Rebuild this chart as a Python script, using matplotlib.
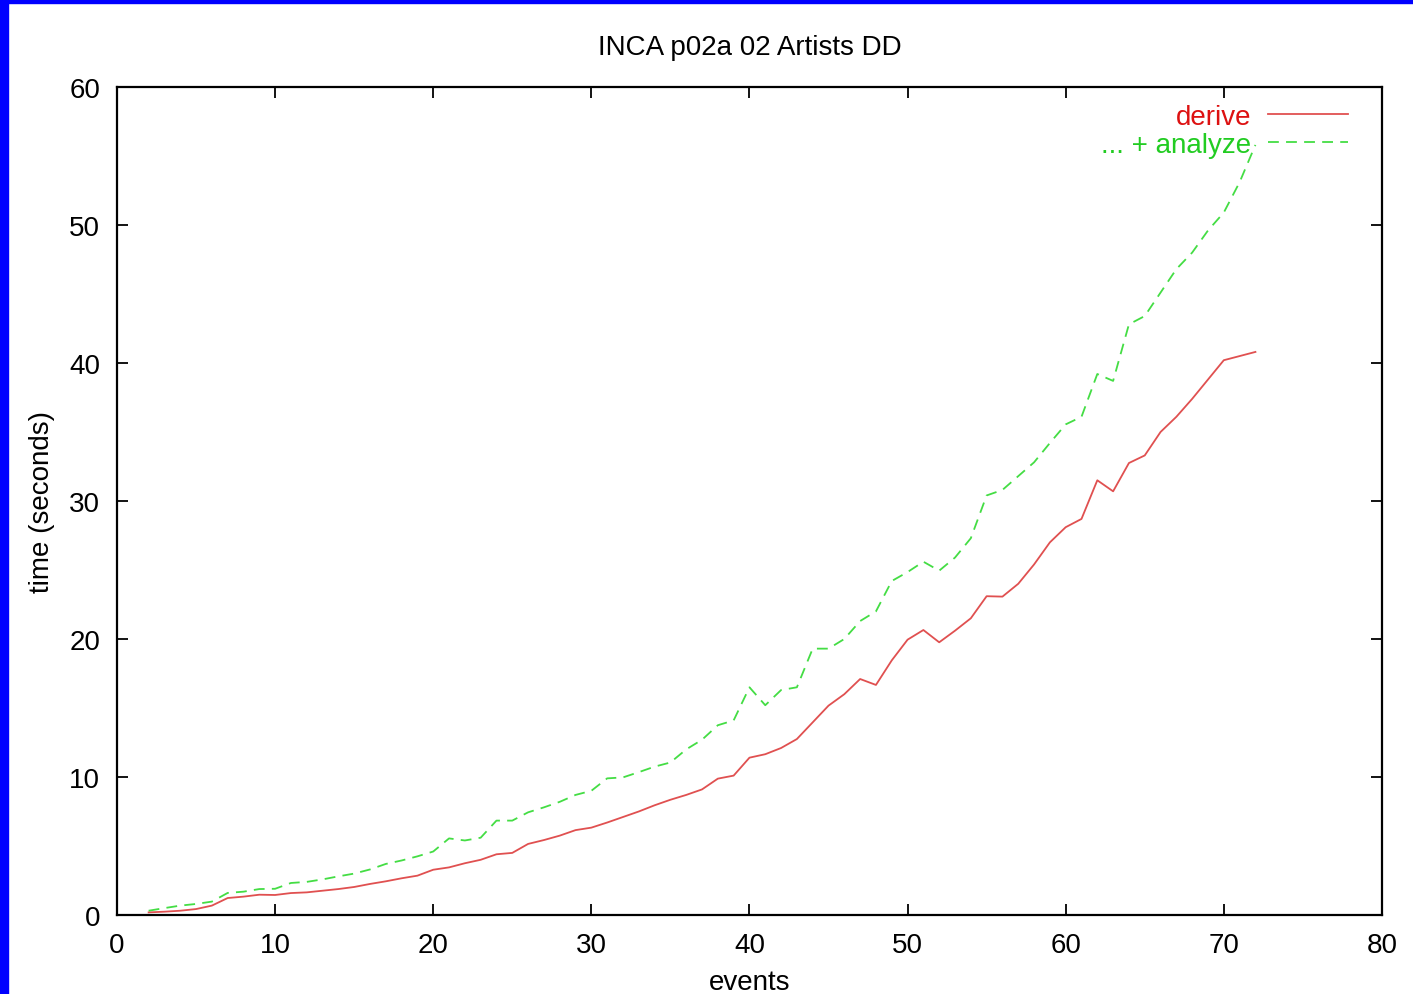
import matplotlib
matplotlib.use('Agg')
from matplotlib import pyplot as plt
from matplotlib.patches import Rectangle

plt.rcParams['font.family'] = ['Liberation Sans', 'DejaVu Sans']

# data
events = list(range(2, 73))

derive = [0.19, 0.24, 0.31, 0.43, 0.68, 1.23, 1.33, 1.47, 1.45, 1.59,
          1.64, 1.76, 1.88, 2.03, 2.25, 2.44, 2.66, 2.85, 3.28, 3.45,
          3.75, 4.0, 4.4, 4.5, 5.15, 5.43, 5.75, 6.15, 6.33, 6.7,
          7.1, 7.5, 7.95, 8.35, 8.7, 9.1, 9.88, 10.1, 11.4, 11.65,
          12.1, 12.75, 13.96, 15.17, 16.0, 17.1, 16.67, 18.45, 19.95, 20.65,
          19.76, 20.6, 21.5, 23.1, 23.07, 24.0, 25.4, 27.0, 28.1, 28.7,
          31.5, 30.7, 32.75, 33.3, 35.0, 36.1, 37.4, 38.8, 40.2, 40.5,
          40.8]

analyze = [0.31, 0.5, 0.68, 0.8, 0.97, 1.6, 1.69, 1.88, 1.9, 2.32,
           2.4, 2.58, 2.8, 3.0, 3.3, 3.7, 3.95, 4.25, 4.6, 5.55,
           5.4, 5.6, 6.84, 6.84, 7.44, 7.8, 8.2, 8.7, 9.0, 9.9,
           9.97, 10.35, 10.75, 11.05, 12.0, 12.7, 13.75, 14.1, 16.5, 15.2,
           16.3, 16.5, 19.3, 19.3, 20.0, 21.3, 22.0, 24.2, 24.85, 25.6,
           24.95, 25.9, 27.3, 30.4, 30.8, 31.8, 32.8, 34.2, 35.55, 36.1,
           39.2, 38.7, 42.8, 43.4, 45.1, 46.8, 48.0, 49.6, 50.9, 53.1,
           55.8]

xticks = [0, 10, 20, 30, 40, 50, 60, 70, 80]
yticks = [0, 10, 20, 30, 40, 50, 60]

fig = plt.figure(figsize=(14.13, 9.95), dpi=100)
fig.patch.set_facecolor('white')
ax = fig.add_axes([0.0828, 0.0794, 0.8952, 0.8322])

ax.plot(events, derive, color='#e05050', lw=1.3, label='derive')
ax.plot(events, analyze, color='#44dd44', lw=1.3, ls=(0, (6, 4)), label='... + analyze')

ax.set_xlim(0, 80)
ax.set_ylim(0, 60)
ax.set_xticks(xticks)
ax.set_yticks(yticks)
ax.tick_params(direction='in', length=8, width=1.3, top=True, right=True,
               labelsize=20, pad=12, colors='black')
for s in ax.spines.values():
    s.set_linewidth(1.6)

ax.set_title('INCA p02a 02 Artists DD', fontsize=20, pad=24)
ax.set_xlabel('events', fontsize=20, labelpad=8)
ax.set_ylabel('time (seconds)', fontsize=20, labelpad=10)

leg = ax.legend(loc='upper right', frameon=False, markerfirst=False, fontsize=20,
                handlelength=2.9, handletextpad=0.6, labelspacing=0.08,
                borderaxespad=0.2, bbox_to_anchor=(0.9865, 1.0))
leg.get_texts()[0].set_color('#dd1111')
leg.get_texts()[1].set_color('#22cc22')

# blue window border seen on the screenshot
fig.patches.append(Rectangle((0, 0), 8 / 1413, 1, transform=fig.transFigure,
                             color='#0000ff', zorder=10))
fig.patches.append(Rectangle((0, 1 - 4 / 995), 1, 4 / 995, transform=fig.transFigure,
                             color='#0000ff', zorder=10))

fig.savefig('out.png', dpi=100)
